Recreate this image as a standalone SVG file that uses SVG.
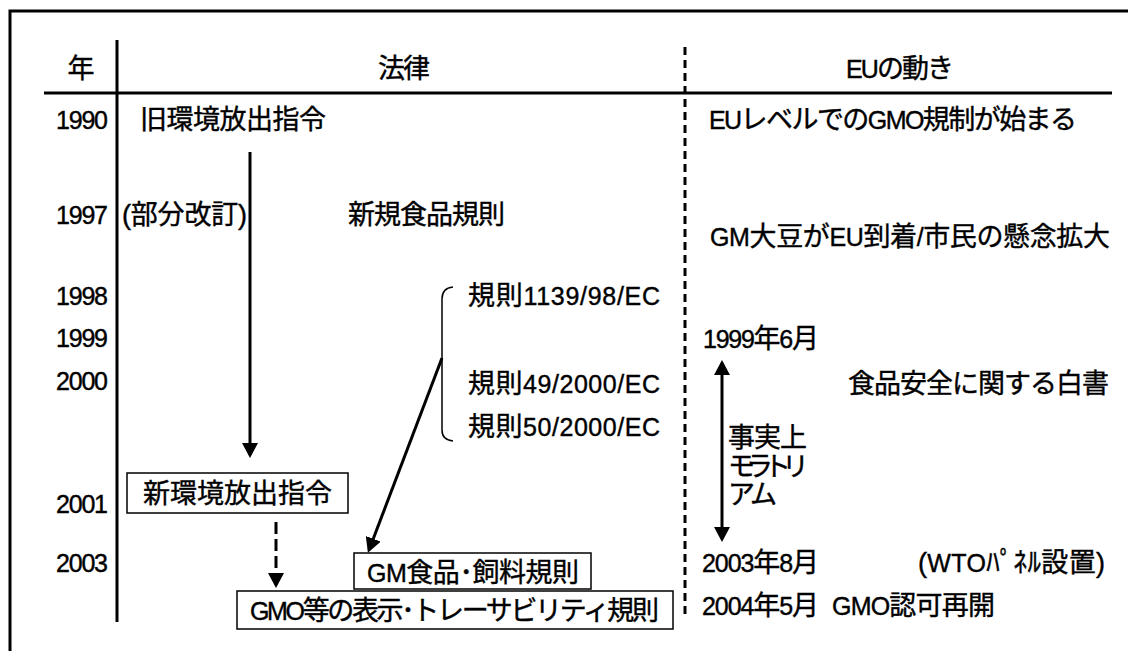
<svg xmlns="http://www.w3.org/2000/svg" width="1128" height="651" viewBox="0 0 1128 651">
<style>
text{font-family:"Liberation Sans","Noto Sans CJK JP",sans-serif;font-size:27px;fill:#000;stroke:#000;stroke-width:0.4}
.l{font-size:25px}
.yr{text-anchor:end;font-size:25px}
.frame{fill:none;stroke:#000;stroke-width:3}
.box{fill:#fff;stroke:#000;stroke-width:1.5}
.ln{stroke:#000;stroke-width:3;fill:none}
.dash{stroke:#000;stroke-width:3;fill:none;stroke-dasharray:8 5}
.thin{stroke:#000;stroke-width:1.5;fill:none}
</style>
<defs>
<marker id="ah" viewBox="0 0 15 16" refX="12" refY="8" markerWidth="15" markerHeight="16" orient="auto-start-reverse" markerUnits="userSpaceOnUse">
<path d="M0,0 L15,8 L0,16 z" fill="#000"/>
</marker>
</defs>
<rect width="1128" height="651" fill="#fff"/>
<g id="table">
<path class="frame" d="M10,651 L10,11 L1128,11"/>
<line class="ln" x1="44" y1="93" x2="1112" y2="93"/>
<line class="ln" x1="117" y1="40" x2="117" y2="622"/>
<line class="dash" x1="685" y1="47" x2="685" y2="616"/>
<text x="81" y="78" text-anchor="middle">年</text>
<text x="378" y="78" textLength="52">法律</text>
<text x="846" y="78" textLength="108"><tspan class="l">EU</tspan>の動き</text>
</g>
<g id="years">
<text class="yr" x="108" y="129" textLength="52">1990</text>
<text class="yr" x="108" y="224" textLength="52">1997</text>
<text class="yr" x="108" y="305" textLength="52">1998</text>
<text class="yr" x="108" y="347" textLength="52">1999</text>
<text class="yr" x="108" y="390" textLength="52">2000</text>
<text class="yr" x="108" y="513" textLength="52">2001</text>
<text class="yr" x="108" y="572" textLength="52">2003</text>
</g>
<g id="n-old-directive"><text x="140" y="129" textLength="186">旧環境放出指令</text></g>
<g id="n-partial"><text x="122" y="224" textLength="125">(部分改訂)</text></g>
<g id="n-novel-food"><text x="348" y="224" textLength="157">新規食品規則</text></g>
<g id="n-bracket">
<path class="thin" d="M453,287 Q442,288 442,299 L442,430 Q442,440 453,441"/>
<text x="468" y="305" textLength="192">規則<tspan class="l">1139/98/EC</tspan></text>
<text x="468" y="393" textLength="192">規則<tspan class="l">49/2000/EC</tspan></text>
<text x="468" y="436" textLength="192">規則<tspan class="l">50/2000/EC</tspan></text>
</g>
<g id="n-new-directive">
<rect class="box" x="127" y="473" width="221" height="40"/>
<text x="143" y="503" textLength="189">新環境放出指令</text>
</g>
<g id="n-gm-food-feed">
<rect class="box" x="354" y="553" width="237" height="36"/>
<text x="367" y="582" textLength="212"><tspan class="l">GM</tspan>食品･飼料規則</text>
</g>
<g id="n-labelling">
<rect class="box" x="237" y="591" width="436" height="38"/>
<text x="250" y="620" textLength="409"><tspan class="l">GMO</tspan>等の表示･トレーサビリティ規則</text>
</g>
<g id="n-eu-events">
<text x="709" y="129" textLength="368"><tspan class="l">EU</tspan>レベルでの<tspan class="l">GMO</tspan>規制が始まる</text>
<text x="710" y="246" textLength="400"><tspan class="l">GM</tspan>大豆が<tspan class="l">EU</tspan>到着<tspan class="l">/</tspan>市民の懸念拡大</text>
<text x="703" y="348" textLength="116"><tspan class="l">1999</tspan>年<tspan class="l">6</tspan>月</text>
<text x="848" y="393" textLength="261">食品安全に関する白書</text>
<text x="728" y="447" textLength="79">事実上</text>
<text x="728" y="476" textLength="81">モラトリ</text>
<text x="728" y="504" textLength="49">アム</text>
<text x="702" y="572" textLength="117"><tspan class="l">2003</tspan>年<tspan class="l">8</tspan>月</text>
<text x="918" y="572" textLength="187">(<tspan class="l">WTO</tspan>ﾊﾟﾈﾙ設置)</text>
<text x="702" y="615" textLength="117"><tspan class="l">2004</tspan>年<tspan class="l">5</tspan>月</text>
<text x="832" y="615" textLength="163"><tspan class="l">GMO</tspan>認可再開</text>
</g>
<g id="connectors">
<line class="ln" x1="250" y1="152" x2="250" y2="455" marker-end="url(#ah)"/>
<line class="ln" x1="276" y1="522" x2="276" y2="585" style="stroke-dasharray:12 5" marker-end="url(#ah)"/>
<line class="ln" x1="442" y1="358" x2="369" y2="550" marker-end="url(#ah)"/>
<line class="ln" x1="722" y1="363" x2="722" y2="539" marker-start="url(#ah)" marker-end="url(#ah)"/>
</g>
</svg>
